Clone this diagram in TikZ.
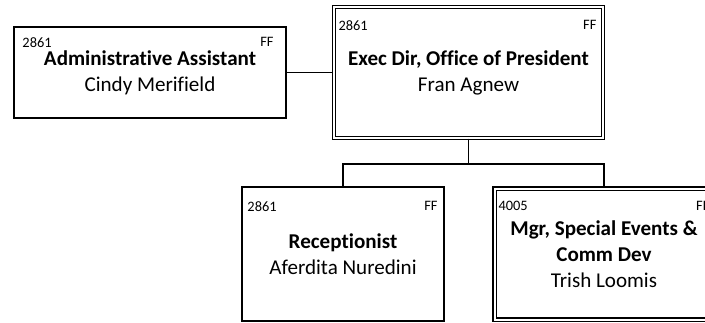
\documentclass[tikz,border=0pt]{standalone}
\usepackage{fontspec}
\setmainfont{Carlito}[Ligatures=NoCommon]
\usetikzlibrary{calc}

\newcommand{\postfont}{\fontsize{15.8}{19.5}\selectfont}
\newcommand{\codefont}{\fontsize{10.8}{12}\selectfont}

\tikzstyle{post} = [rectangle,draw=black,line width=1.2pt,align=center,font=\postfont,inner sep=0pt]
\tikzstyle{mainpost} = [post,double,double distance=1.5pt,line width=1.1pt]
\tikzstyle{code} = [font=\codefont,inner sep=0pt]
\tikzstyle{link} = [draw=black,line width=1.2pt]

\begin{document}
\begin{tikzpicture}[x=0.75pt,y=-0.75pt]

	\clip (0,0) rectangle (705,322);

	% positions
	\node (admin) [post,minimum width=204pt,minimum height=68.25pt] at (150,72.5)
		{\textbf{Administrative Assistant}\\Cindy Merifield};
	\node (exec) [mainpost,minimum width=201.75pt,minimum height=98.25pt] at (468.5,72.5)
		{\textbf{Exec Dir, Office of President}\\Fran Agnew};
	\node (recep) [post,minimum width=151.5pt,minimum height=100.5pt] at (343,254)
		{\textbf{Receptionist}\\Aferdita Nuredini};
	\node (mgr) [mainpost,minimum width=164.25pt,minimum height=98.25pt] at (604,254)
		{\textbf{Mgr, Special Events \&}\\\textbf{Comm Dev}\\Trish Loomis};

	% position numbers and codes
	\node (admin-id) [code,anchor=west] at ($(admin.north west)+(9,16)$) {2861};
	\node (admin-ff) [code,anchor=east] at ($(admin.north east)+(-13,16)$) {FF};
	\node (exec-id) [code,anchor=west] at ($(exec.north west)+(5,19)$) {2861};
	\node (exec-ff) [code,anchor=east] at ($(exec.north east)+(-7,19)$) {FF};
	\node (recep-id) [code,anchor=west] at ($(recep.north west)+(6,20)$) {2861};
	\node (recep-ff) [code,anchor=east] at ($(recep.north east)+(-7,20)$) {FF};
	\node (mgr-id) [code,anchor=west] at ($(mgr.north west)+(4.5,18.5)$) {4005};
	\node (mgr-ff) [code,anchor=east] at ($(mgr.north east)+(-4.5,18.5)$) {FF};

	% reporting lines
	\coordinate (bus) at ($(exec.south)+(0,25)$);
	\path[link]
		(admin) -- (exec)
		(exec.south) -- (bus) -| (recep.north)
		(bus) -| (mgr.north)
		;

\end{tikzpicture}
\end{document}
